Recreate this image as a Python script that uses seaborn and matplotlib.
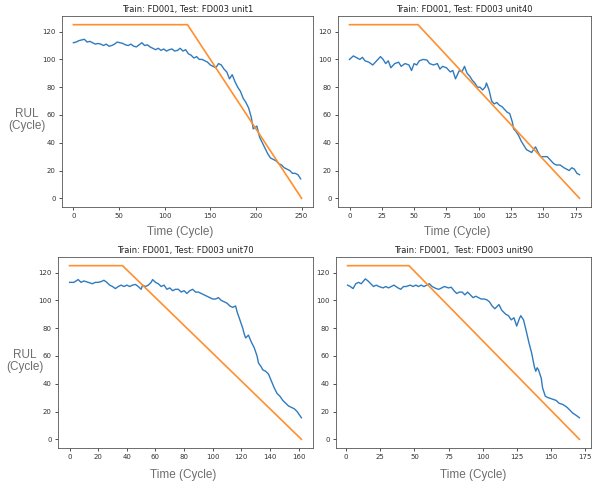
import numpy as np
import matplotlib
matplotlib.use("Agg")
import matplotlib.pyplot as plt
import seaborn as sns

# ------------------------------------------------
# predicted RUL (cycle, value)
# ------------------------------------------------
u1_cyc = [0, 3, 6, 9, 12, 15, 18, 21, 24, 27, 30, 33, 36, 39, 42, 45, 48, 51, 54, 57,
          60, 63, 66, 69, 72, 75, 78, 81, 84, 87, 90, 93, 96, 99, 102, 105, 108, 111, 114, 117,
          120, 123, 126, 129, 132, 135, 138, 141, 144, 147, 150, 153, 156, 159, 162, 165, 168, 171, 174, 177,
          180, 183, 186, 189, 192, 195, 197, 199, 201, 204, 207, 210, 213, 216, 219, 222, 225, 228, 231, 234,
          237, 240, 243, 246, 249]
u1_pred = [112, 112.5, 113.5, 114, 114.5, 112.5, 113, 112, 111, 111.5, 111, 110, 111, 109.5, 110, 111, 112.5, 112, 111.5, 110.5,
           110, 111, 109.5, 109, 110.5, 112, 110, 110.5, 109, 108, 107, 108, 106.5, 107.5, 106, 107, 107.5, 106, 106.5, 108,
           106, 107, 104, 103, 101, 102, 100, 100, 99, 98, 96, 95, 94, 97, 96, 93, 91, 86, 89, 84,
           80, 77, 72, 69, 65, 58, 50, 51, 52, 44, 40, 36, 32, 29, 28, 27, 25, 24, 22, 21,
           20, 18, 18, 17, 14]

u40_cyc = [0, 3, 6, 8, 10, 12, 15, 18, 20, 22, 24, 26, 28, 30, 32, 35, 38, 40, 43, 46,
           48, 50, 52, 54, 57, 60, 62, 65, 68, 70, 72, 75, 78, 80, 82, 85, 87, 89, 91, 93,
           95, 97, 99, 101, 103, 105, 106, 108, 110, 112, 114, 116, 118, 120, 122, 124, 126, 127, 129, 131,
           133, 135, 137, 139, 141, 143, 144, 146, 148, 151, 153, 155, 158, 160, 163, 166, 168, 170, 172, 174,
           176, 178]
u40_pred = [100, 102.5, 101, 100, 101.5, 99, 98, 96, 98, 100, 102, 100, 97, 99, 94, 97, 98, 95, 97, 96,
            92, 97, 96, 99, 100, 99.5, 97, 96, 97, 93, 95, 94, 91, 92, 86, 92, 91, 95, 90, 88,
            85, 83, 80, 80, 78, 80, 83, 78, 70, 68, 69, 67, 66, 64, 62, 61, 55, 50, 48, 45,
            41, 38, 35, 34, 33, 36, 37, 33, 30, 30, 30, 28, 25, 24, 24, 22, 21, 20, 22, 21,
            18, 17]

u70_cyc = [0, 3, 6, 8, 10, 13, 16, 18, 20, 22, 24, 26, 28, 30, 32, 34, 36, 38, 40, 42,
           44, 46, 48, 50, 51, 53, 55, 57, 58, 60, 62, 64, 66, 68, 70, 72, 74, 76, 78, 80,
           82, 84, 86, 88, 90, 92, 94, 96, 98, 100, 102, 104, 106, 108, 110, 112, 114, 116, 117, 119,
           121, 122, 123, 125, 127, 129, 131, 132, 134, 135, 137, 139, 141, 143, 145, 147, 149, 151, 153, 155,
           157, 159, 161, 162]
u70_pred = [113, 113, 115, 113, 114, 113, 112, 113, 113, 113.5, 114.5, 113, 111, 110, 108.5, 110, 111, 110, 111, 110,
            111, 111.5, 110, 108, 111, 110, 111, 113, 115, 113, 112, 110, 111, 108, 109, 107, 108, 108, 106, 107,
            105, 107, 108, 106, 106, 105, 104, 103, 102, 101, 101, 102, 100, 99, 98, 96, 95, 96, 92, 86,
            80, 76, 73, 75, 70, 66, 60, 55, 52, 50, 49, 47, 42, 37, 33, 31, 28, 26, 24, 23,
            22, 20, 17, 15.5]

u90_cyc = [1, 3, 5, 7, 9, 11, 14, 16, 18, 20, 22, 24, 27, 29, 31, 33, 35, 38, 40, 42,
           44, 47, 49, 51, 53, 55, 57, 59, 61, 63, 66, 68, 70, 72, 75, 77, 79, 81, 83, 85,
           87, 89, 91, 93, 95, 97, 99, 101, 103, 105, 107, 109, 110, 112, 114, 117, 119, 121, 123, 125,
           127, 128, 130, 132, 134, 136, 138, 139, 140, 141, 143, 144, 146, 148, 151, 154, 156, 159, 162, 164,
           166, 169, 171]
u90_pred = [111, 110, 108.5, 112, 113, 112, 115.5, 114, 112, 110, 111, 110, 109, 110, 109, 110, 111, 109, 108, 110,
            110, 111, 110, 111, 110, 111, 110, 111, 112, 110, 108.5, 108, 109, 110, 109, 109.5, 107, 105, 106, 106,
            104, 106, 104, 102, 103, 102, 101, 101, 100.5, 99, 96, 94, 95, 97, 93, 90, 89, 86, 87.5, 81.5,
            87, 89, 86, 78, 69.5, 62, 52, 49, 51.5, 50, 44, 37, 31, 30, 29, 28, 26, 25, 23, 21,
            19, 17, 15.5]

# true RUL: piecewise linear (start, knee, end)
u1_true_x, u1_true_y = [0, 125, 250], [125, 125, 0]
u40_true_x, u40_true_y = [0, 53, 178], [125, 125, 0]
u70_true_x, u70_true_y = [0, 37, 162], [125, 125, 0]
u90_true_x, u90_true_y = [1, 46, 171], [125, 125, 0]

titles = ["Train: FD001, Test: FD003 unit1", "Train: FD001, Test: FD003 unit40",
          "Train: FD001, Test: FD003 unit70", "Train: FD001,  Test: FD003 unit90"]

panels = [
    (u1_cyc, u1_pred, u1_true_x, u1_true_y),
    (u40_cyc, u40_pred, u40_true_x, u40_true_y),
    (u70_cyc, u70_pred, u70_true_x, u70_true_y),
    (u90_cyc, u90_pred, u90_true_x, u90_true_y),
]

W, H = 592, 487
# axes boxes in pixels: left, top, right, bottom
boxes = [(62, 16, 313, 207), (338, 16, 591, 207),
         (58, 257, 313, 448), (336, 257, 591, 448)]

fig = plt.figure(figsize=(W / 100, H / 100), dpi=100)

for (cyc, pred, tx, ty), title, (l, t, r, b) in zip(panels, titles, boxes):
    ax = fig.add_axes([l / W, 1 - b / H, (r - l) / W, (b - t) / H])
    sns.lineplot(x=cyc, y=pred, ax=ax, color="#2f7bbf", lw=1.0)
    sns.lineplot(x=tx, y=ty, ax=ax, color="#ff8f2e", lw=1.2)
    ax.set_title(title, fontsize=6, pad=3, color="#222222")
    ax.set_yticks([0, 20, 40, 60, 80, 100, 120])
    ax.tick_params(labelsize=5, length=2.5, width=0.6, pad=2, colors="#333333")
    for sp in ax.spines.values():
        sp.set_linewidth(0.6)
        sp.set_color("#555555")

lab = dict(color="#6e6e6e", family="Liberation Sans", fontsize=8.5, ha="center", va="center")
# x labels
for x, y in [(180, 232), (457, 232), (183, 475), (473, 475)]:
    fig.text(x / W, 1 - y / H, "Time (Cycle)", **lab)
# y labels
for x, y in [(27, 120), (25, 361)]:
    fig.text(x / W, 1 - y / H, "RUL\n(Cycle)", linespacing=1.1, **lab)

fig.savefig("out.png", dpi=100)
